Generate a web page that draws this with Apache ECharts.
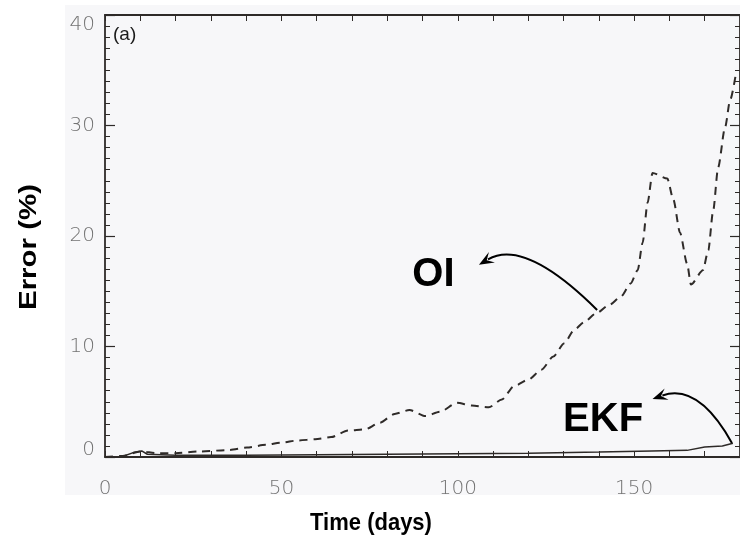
<!DOCTYPE html>
<html>
<head>
<meta charset="utf-8">
<script src="https://cdn.jsdelivr.net/npm/echarts@6/dist/echarts.min.js"></script>
<style>
  html, body { margin: 0; padding: 0; background: #ffffff; }
  #chart { width: 740px; height: 547px; }
</style>
</head>
<body>
<div id="chart"></div>
<script>
// Time axis (days) and relative error (%) of the two assimilation schemes
var oiDays = [0, 5, 10, 15, 20, 26.7, 35.2, 40.2, 45.6, 49.8, 54.8, 59.6, 64.1, 68.9, 73.7, 77.9, 82.1, 86.3, 90.8, 95, 99.8, 104, 108.8, 112.5, 115.9, 120, 123.7, 127.1, 130.2, 133, 135.8, 139.2, 142.9, 146.2, 149, 151, 152.4, 153.8, 155.2, 159.4, 161.1, 163, 165, 166.1, 169.5, 171, 172.4, 173.8, 175.8, 177.2, 179];
var oiError = [0, 0.1, 0.5, 0.35, 0.35, 0.5, 0.63, 0.85, 1.1, 1.3, 1.5, 1.6, 1.8, 2.4, 2.5, 3.1, 3.9, 4.25, 3.7, 4.1, 4.9, 4.65, 4.5, 5.2, 6.4, 7.0, 7.9, 9.1, 10.3, 11.5, 12.2, 13.0, 13.75, 14.5, 15.7, 16.9, 19.4, 23.0, 25.7, 25.2, 23.3, 20.3, 17.5, 15.6, 16.9, 18.7, 22.3, 26.2, 29.9, 32.3, 35.0];

var ekfDays = [0, 5, 8, 10.4, 12, 20, 40, 60, 80, 100, 120, 140, 155, 165, 170, 175, 178];
var ekfError = [0, 0.05, 0.4, 0.55, 0.25, 0.15, 0.15, 0.2, 0.25, 0.3, 0.35, 0.45, 0.55, 0.6, 0.9, 1.0, 1.25];

var xTickLabels = [0, 50, 100, 150];
var yTickLabels = [0, 10, 20, 30, 40];

function pairs(xs, ys) {
  return xs.map(function (x, i) { return [x, ys[i]]; });
}

var tickFont = { fontFamily: 'DejaVu Sans', fontSize: 20, fontWeight: 200, color: '#737373' };
var axisInk = '#2e2a28';

var chart = echarts.init(document.getElementById('chart'), null, { renderer: 'canvas' });

chart.setOption({
  animation: false,
  backgroundColor: '#ffffff',
  grid: { left: 105, width: 640, top: 15, height: 442, containLabel: false },
  xAxis: [{
    type: 'value', min: 0, max: 180, interval: 10,
    axisLine: { show: true, lineStyle: { color: axisInk, width: 1.8 } },
    axisTick: { show: true, inside: true, length: 6, lineStyle: { color: axisInk, width: 1 } },
    axisLabel: Object.assign({
      margin: 22, showMaxLabel: false,
      formatter: function (v) { return xTickLabels.indexOf(v) >= 0 ? String(v) : ''; }
    }, tickFont),
    splitLine: { show: false }
  }, {
    type: 'value', position: 'top', min: 0, max: 180, interval: 10,
    axisLine: { show: true, onZero: false, lineStyle: { color: axisInk, width: 1.8 } },
    axisTick: { show: true, inside: true, length: 6, lineStyle: { color: axisInk, width: 1 } },
    axisLabel: { show: false },
    splitLine: { show: false }
  }],
  yAxis: [{
    type: 'value', min: 0, max: 40, interval: 10,
    axisLine: { show: true, lineStyle: { color: axisInk, width: 1.8 } },
    axisTick: { show: true, inside: true, length: 10, lineStyle: { color: axisInk, width: 1.2 } },
    minorTick: { show: true, splitNumber: 10, length: 5, lineStyle: { color: axisInk, width: 1 } },
    axisLabel: Object.assign({
      margin: 10,
      verticalAlignMaxLabel: 'top',
      formatter: function (v) {
        if (yTickLabels.indexOf(v) < 0) return '';
        return v === 0 ? '{lift|0}' : String(v);
      },
      rich: { lift: Object.assign({ padding: [0, 0, 14, 0] }, tickFont) }
    }, tickFont),
    splitLine: { show: false }
  }, {
    type: 'value', position: 'right', min: 0, max: 40, interval: 10,
    axisLine: { show: true, onZero: false, lineStyle: { color: axisInk, width: 1.8 } },
    axisTick: { show: true, inside: true, length: 10, lineStyle: { color: axisInk, width: 1.2 } },
    minorTick: { show: true, splitNumber: 10, length: 5, lineStyle: { color: axisInk, width: 1 } },
    axisLabel: { show: false },
    splitLine: { show: false }
  }],
  series: [{
    name: 'OI', type: 'line', xAxisIndex: 0, yAxisIndex: 0,
    data: pairs(oiDays, oiError),
    showSymbol: false, smooth: 0.25, smoothMonotone: 'x',
    lineStyle: { color: '#2f2b29', width: 2, type: [8, 6] },
    z: 3
  }, {
    name: 'EKF', type: 'line', xAxisIndex: 0, yAxisIndex: 0,
    data: pairs(ekfDays, ekfError),
    showSymbol: false, smooth: false,
    lineStyle: { color: '#2e2a28', width: 1.5 },
    z: 4
  }]
});

// Annotation anchors in data space: label centre, arrow start (on curve), arrow tip, curve control point
var notes = [
  { text: 'OI',  label: [93.1, 16.5], from: [139.5, 13.3], to: [106, 17.4], ctrl: [119, 19.8] },
  { text: 'EKF', label: [141.2, 3.35], from: [177.7, 1.27], to: [155.2, 5.25], ctrl: [168.2, 6.7] }
];

function px(p) { return chart.convertToPixel({ xAxisIndex: 0, yAxisIndex: 0 }, p); }

var graphics = [{
  type: 'rect', z: -100, silent: true,
  shape: { x: 65, y: 5, width: 675, height: 490 },
  style: { fill: '#f7f7f9' }
}, {
  type: 'text', x: 113, y: 35, z: 10,
  style: { text: '(a)', font: '19px "Liberation Sans"', fill: '#1a1a1a', textVerticalAlign: 'middle' }
}, {
  // axis titles
  type: 'text', x: 371, y: 523, z: 10, scaleY: 1.12,
  style: { text: 'Time (days)', font: 'bold 22px "Liberation Sans"', fill: '#000000', textAlign: 'center', textVerticalAlign: 'middle' }
}, {
  type: 'text', x: 30, y: 247, z: 10, rotation: Math.PI / 2, scaleX: 1.28,
  style: { text: 'Error (%)', font: 'bold 23px "Liberation Sans"', fill: '#000000', textAlign: 'center', textVerticalAlign: 'middle' }
}];

notes.forEach(function (n) {
  var c = px(n.label), s = px(n.from), e = px(n.to), k = px(n.ctrl);
  graphics.push({
    type: 'text', x: c[0], y: c[1], z: 10,
    style: { text: n.text, font: 'bold 40px "Liberation Sans"', fill: '#000000', textAlign: 'center', textVerticalAlign: 'middle' }
  });
  // direction of the arrow at its tip
  var dx = e[0] - k[0], dy = e[1] - k[1], len = Math.sqrt(dx * dx + dy * dy);
  dx /= len; dy /= len;
  var nx = -dy, ny = dx, L = 15, W = 12;
  var base = [e[0] - dx * L * 0.7, e[1] - dy * L * 0.7];
  graphics.push({
    type: 'bezierCurve', z: 10,
    shape: { x1: s[0], y1: s[1], cpx1: k[0], cpy1: k[1], x2: base[0], y2: base[1] },
    style: { stroke: '#000000', lineWidth: 2, fill: null }
  });
  graphics.push({
    type: 'polygon', z: 10,
    shape: { points: [
      [e[0], e[1]],
      [e[0] - dx * L + nx * W / 2, e[1] - dy * L + ny * W / 2],
      [e[0] - dx * L * 0.6, e[1] - dy * L * 0.6],
      [e[0] - dx * L - nx * W / 2, e[1] - dy * L - ny * W / 2]
    ] },
    style: { fill: '#000000' }
  });
});

chart.setOption({ graphic: graphics });
</script>
</body>
</html>
